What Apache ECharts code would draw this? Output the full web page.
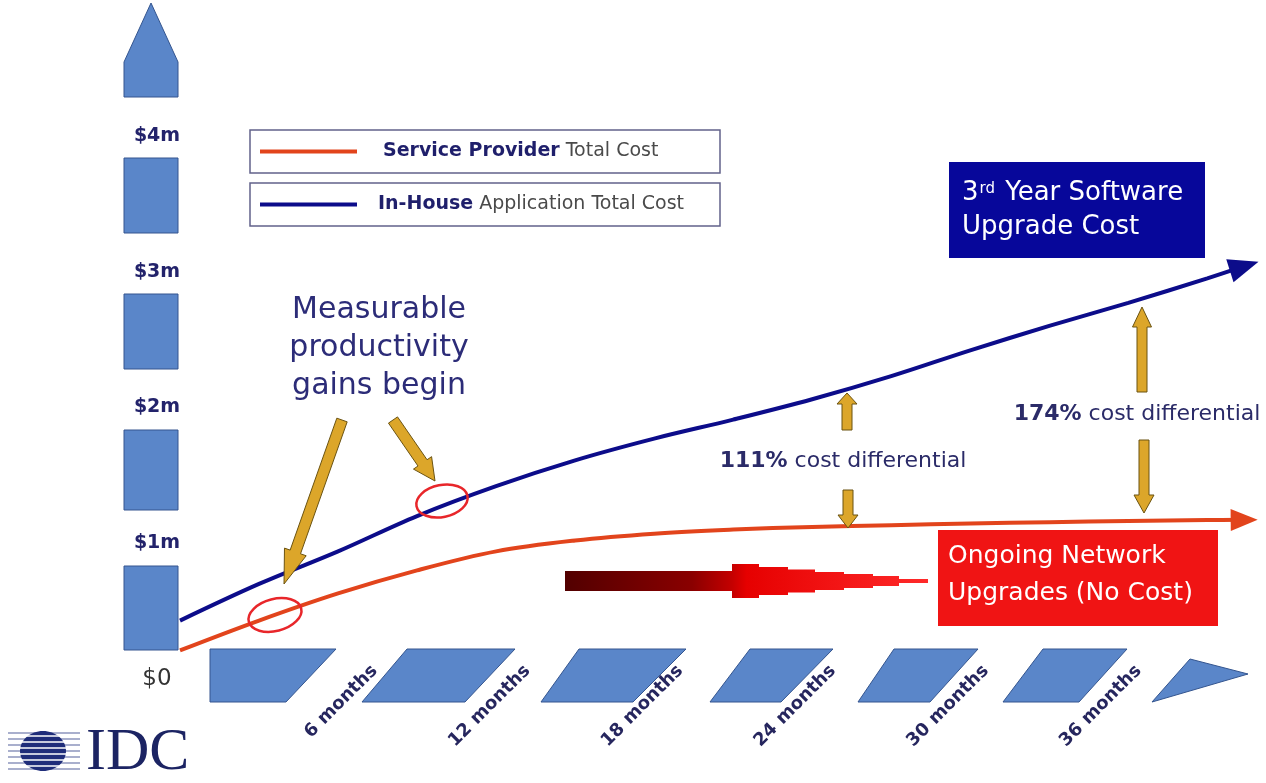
<!DOCTYPE html>
<html><head><meta charset="utf-8">
<script src="https://cdn.jsdelivr.net/npm/echarts@6/dist/echarts.min.js"></script>
<style>html,body{margin:0;padding:0;background:#fff}#c{width:1266px;height:783px}</style>
</head><body><div id="c"></div>
<script>
// ---------------- data ----------------
const months = [0, 3, 6, 9, 12, 15, 18, 21, 24, 27, 30, 33, 36, 39, 40.4];
const inHouse = [0.43, 0.70, 0.94, 1.20, 1.42, 1.61, 1.77, 1.91, 2.06, 2.23, 2.42, 2.60, 2.77, 2.95, 3.04];
const serviceProvider = [0.21, 0.43, 0.63, 0.80, 0.94, 1.02, 1.07, 1.10, 1.12, 1.133, 1.145, 1.155, 1.163, 1.17, 1.172];
const yTicks = [0, 1, 2, 3, 4];
const yTickLabels = ['$0', '$1m', '$2m', '$3m', '$4m'];
const monthTicks = [6, 12, 18, 24, 30, 36];
const monthLabels = ['6 months', '12 months', '18 months', '24 months', '30 months', '36 months'];
const seriesNames = ['Service Provider Total Cost', 'In-House Application Total Cost'];
const legendBold = {'Service Provider Total Cost': ['Service Provider', 'Total Cost'],
                    'In-House Application Total Cost': ['In-House', 'Application Total Cost']};

// ---------------- style ----------------
const FONT = "'DejaVu Sans', 'Liberation Sans', sans-serif";
const NAVY = '#23236b';
const RED_LINE = '#e2441c';
const BLUE_LINE = '#0c0c8a';
const COL_FILL = '#5a86c9', COL_STROKE = '#34558f';
const GOLD = '#dca62a', GOLD_STROKE = '#6b5311';

const chart = echarts.init(document.getElementById('c'));

function arrowPoly(x1, y1, x2, y2, shaft, head, headLen) {
  const dx = x2 - x1, dy = y2 - y1, L = Math.hypot(dx, dy), ux = dx / L, uy = dy / L, nx = -uy, ny = ux;
  const bx = x2 - ux * headLen, by = y2 - uy * headLen, s = shaft / 2, h = head / 2;
  return [[x1 + nx * s, y1 + ny * s], [bx + nx * s, by + ny * s], [bx + nx * h, by + ny * h], [x2, y2],
          [bx - nx * h, by - ny * h], [bx - nx * s, by - ny * s], [x1 - nx * s, y1 - ny * s]];
}

const deco = [];
// vertical value column
deco.push({type: 'polygon', z: -1, shape: {points: [[151, 3], [178, 62], [178, 97], [124, 97], [124, 62]]},
           style: {fill: COL_FILL, stroke: COL_STROKE, lineWidth: 1}});
[[158, 233], [294, 369], [430, 510], [566, 650]].forEach(([a, b]) => deco.push({
  type: 'rect', z: -1, shape: {x: 124, y: a, width: 54, height: b - a},
  style: {fill: COL_FILL, stroke: COL_STROKE, lineWidth: 1}}));
// horizontal timeline blocks
[
  [[210, 649], [336, 649], [286, 702], [210, 702]],
  [[407, 649], [515, 649], [465, 702], [362, 702]],
  [[579, 649], [686, 649], [633, 702], [541, 702]],
  [[750, 649], [833, 649], [781, 702], [710, 702]],
  [[894, 649], [978, 649], [930, 702], [858, 702]],
  [[1043, 649], [1127, 649], [1079, 702], [1003, 702]],
  [[1190, 659], [1248, 674], [1152, 702]]
].forEach(p => deco.push({type: 'polygon', z: -1, shape: {points: p},
  style: {fill: COL_FILL, stroke: COL_STROKE, lineWidth: 1}}));

// legend boxes
deco.push({type: 'rect', z: 1, shape: {x: 250, y: 130, width: 470, height: 43}, style: {fill: 'none', stroke: '#62628a', lineWidth: 1.5}});
deco.push({type: 'rect', z: 1, shape: {x: 250, y: 183, width: 470, height: 43}, style: {fill: 'none', stroke: '#62628a', lineWidth: 1.5}});

// navy box
deco.push({type: 'rect', z: 5, shape: {x: 949, y: 162, width: 256, height: 96}, style: {fill: '#07079a'}});
deco.push({type: 'text', z: 6, x: 962, y: 210, style: {
  text: '3{s|rd} Year Software\nUpgrade Cost', fill: '#ffffff', font: '26px ' + FONT,
  fontSize: 26, fontFamily: FONT, lineHeight: 34,
  align: 'left', textAlign: 'left', verticalAlign: 'middle', textVerticalAlign: 'middle',
  rich: {s: {fontSize: 15, fontFamily: FONT, fill: '#fff', color: '#fff', verticalAlign: 'top', padding: [6, 2, 0, 1]}}}});

// red box
deco.push({type: 'rect', z: 5, shape: {x: 938, y: 530, width: 280, height: 96}, style: {fill: '#f01414'}});
deco.push({type: 'text', z: 6, x: 948, y: 575, style: {
  text: 'Ongoing Network\nUpgrades (No Cost)', fill: '#ffffff', font: '25px ' + FONT, lineHeight: 37,
  align: 'left', textAlign: 'left', verticalAlign: 'middle', textVerticalAlign: 'middle'}});

// red gradient arrow
deco.push({type: 'polygon', z: 4, shape: {points: [
  [565, 571], [732, 571], [732, 564], [759, 564], [759, 567], [788, 567], [788, 569.5], [815, 569.5], [815, 572],
  [844, 572], [844, 574], [873, 574], [873, 576], [899, 576], [899, 579], [928, 579],
  [928, 583], [899, 583], [899, 586], [873, 586], [873, 588], [844, 588], [844, 590], [815, 590],
  [815, 592.5], [788, 592.5], [788, 595], [759, 595], [759, 598], [732, 598], [732, 591], [565, 591]]},
  style: {fill: new echarts.graphic.LinearGradient(0, 0, 1, 0, [
    {offset: 0, color: '#520000'}, {offset: 0.35, color: '#8a0000'}, {offset: 0.46, color: '#c40000'},
    {offset: 0.5, color: '#e60000'}, {offset: 1, color: '#ff2a2a'}])}});

// annotation texts
deco.push({type: 'text', z: 6, x: 379, y: 348, style: {
  text: 'Measurable\nproductivity\ngains begin', fill: '#2c2c78', font: '30px ' + FONT, lineHeight: 38,
  align: 'center', textAlign: 'center', verticalAlign: 'middle', textVerticalAlign: 'middle'}});
deco.push({type: 'text', z: 6, x: 843, y: 461, style: {
  text: '{b|111%} cost differential', fill: '#2b2b68', font: '22px ' + FONT,
  align: 'center', textAlign: 'center', verticalAlign: 'middle', textVerticalAlign: 'middle',
  rich: {b: {fontWeight: 'bold', fontSize: 22, fontFamily: FONT, fill: '#2b2b68', color: '#2b2b68'}}}});
deco.push({type: 'text', z: 6, x: 1137, y: 414, style: {
  text: '{b|174%} cost differential', fill: '#2b2b68', font: '22px ' + FONT,
  align: 'center', textAlign: 'center', verticalAlign: 'middle', textVerticalAlign: 'middle',
  rich: {b: {fontWeight: 'bold', fontSize: 22, fontFamily: FONT, fill: '#2b2b68', color: '#2b2b68'}}}});

// gold arrows
[
  [342, 420, 284, 584, 11, 23, 34],
  [393, 420, 435, 481, 11, 22, 22],
  [847, 430, 847, 393, 10, 20, 11],
  [848, 490, 848, 528, 10, 20, 13],
  [1142, 392, 1142, 307, 10, 19, 20],
  [1144, 440, 1144, 513, 10, 20, 18]
].forEach(a => deco.push({type: 'polygon', z: 7, shape: {points: arrowPoly(...a)},
  style: {fill: GOLD, stroke: GOLD_STROKE, lineWidth: 1}}));

// red ellipses
deco.push({type: 'ellipse', z: 7, x: 275, y: 615, rotation: 0.25, shape: {cx: 0, cy: 0, rx: 27, ry: 16},
  style: {fill: 'none', stroke: '#e8262a', lineWidth: 2.5}});
deco.push({type: 'ellipse', z: 7, x: 442, y: 501, rotation: 0.2, shape: {cx: 0, cy: 0, rx: 26, ry: 16},
  style: {fill: 'none', stroke: '#e8262a', lineWidth: 2.5}});

// IDC logo
[733, 739, 745, 751, 757, 763, 769].forEach(y => deco.push({type: 'line', z: 1,
  shape: {x1: 8, y1: y, x2: 80, y2: y}, style: {stroke: '#8c94bc', lineWidth: 1.5}}));
deco.push({type: 'ellipse', z: 2, shape: {cx: 43, cy: 751, rx: 23, ry: 20}, style: {fill: '#1f2d7a'}});
[736, 742, 748, 754, 760, 766].forEach(y => deco.push({type: 'line', z: 3,
  shape: {x1: 18, y1: y, x2: 68, y2: y}, style: {stroke: '#ffffff', lineWidth: 1.6}}));
deco.push({type: 'text', z: 3, x: 86, y: 753, style: {text: 'IDC', fill: '#1c2463',
  font: "60px 'Liberation Serif', 'DejaVu Serif', serif", align: 'left', textAlign: 'left',
  verticalAlign: 'middle', textVerticalAlign: 'middle'}});

function pts(xs, ys) { return xs.map((m, i) => [m, ys[i]]); }
const redData = pts(months, serviceProvider);
const blueData = pts(months, inHouse);

const option = {
  backgroundColor: '#ffffff',
  animation: false,
  grid: [
    {left: 180, right: 6, top: 0, bottom: 104},
    {left: 222, right: -36, top: 600, bottom: 121}
  ],
  xAxis: [
    {type: 'value', gridIndex: 0, min: 0, max: 41, axisLine: {show: false}, axisTick: {show: false},
     axisLabel: {show: false}, splitLine: {show: false}},
    {type: 'value', gridIndex: 1, min: 0, max: 41, interval: 6, axisLine: {show: false}, axisTick: {show: false},
     splitLine: {show: false},
     axisLabel: {rotate: 45, margin: 6, fontFamily: FONT, fontWeight: 'bold', fontSize: 18, color: '#26265e',
       showMinLabel: false, showMaxLabel: false,
       formatter: v => { const i = monthTicks.indexOf(v); return i >= 0 ? monthLabels[i] : ''; }}}
  ],
  yAxis: [
    {type: 'value', gridIndex: 0, min: 0, max: 5, interval: 1, axisLine: {show: false}, axisTick: {show: false},
     splitLine: {show: false},
     axisLabel: {align: 'center', margin: 23, showMaxLabel: false,
       formatter: v => { const i = yTicks.indexOf(v); if (i < 0) return ''; return (v === 0 ? '{z|' : '{m|') + yTickLabels[i] + '}'; },
       rich: {z: {fontFamily: FONT, fontSize: 23, color: '#333333'},
              m: {fontFamily: FONT, fontSize: 19, fontWeight: 'bold', color: NAVY}}}},
    {type: 'value', gridIndex: 1, show: false}
  ],
  legend: seriesNames.map((name, k) => ({
    data: [name], left: 260, top: k === 0 ? 141 : 194, padding: 0, icon: 'rect', itemWidth: 97, itemHeight: 4,
    selectedMode: false,
    formatter: n => '{b|' + legendBold[n][0] + '} {r|' + legendBold[n][1] + '}',
    textStyle: {fontFamily: FONT, fontSize: 19, lineHeight: 21, padding: [0, 0, 0, k === 0 ? 21 : 16],
      rich: {b: {fontFamily: FONT, fontSize: 19, fontWeight: 'bold', color: '#1f1f6b'},
             r: {fontFamily: FONT, fontSize: 19, color: '#4a4a4a'}}}
  })),
  series: [
    {name: seriesNames[0], type: 'line', xAxisIndex: 0, yAxisIndex: 0, data: redData, smooth: 0.35,
     symbol: 'none', color: RED_LINE, lineStyle: {color: RED_LINE, width: 4}, z: 3, clip: false},
    {name: seriesNames[1], type: 'line', xAxisIndex: 0, yAxisIndex: 0, data: blueData, smooth: 0.35,
     symbol: 'none', color: BLUE_LINE, lineStyle: {color: BLUE_LINE, width: 4}, z: 3, clip: false},
    {name: 'redHead', type: 'scatter', xAxisIndex: 0, yAxisIndex: 0, data: [redData[redData.length - 1]],
     symbol: 'triangle', symbolSize: [22, 27], symbolRotate: -90, itemStyle: {color: RED_LINE, opacity: 1}, z: 4, silent: true},
    {name: 'blueHead', type: 'scatter', xAxisIndex: 0, yAxisIndex: 0, data: [blueData[blueData.length - 1]],
     symbol: 'triangle', symbolSize: [24, 30], symbolRotate: -72, itemStyle: {color: BLUE_LINE, opacity: 1}, z: 4, silent: true}
  ],
  graphic: {elements: deco}
};
chart.setOption(option);

// orient arrow heads along the end direction of each line
function headAngle(data) {
  const n = data.length;
  const p1 = chart.convertToPixel({gridIndex: 0}, data[n - 3]);
  const p2 = chart.convertToPixel({gridIndex: 0}, data[n - 1]);
  return Math.atan2(-(p2[1] - p1[1]), p2[0] - p1[0]) * 180 / Math.PI - 90;
}
chart.setOption({series: [{}, {}, {symbolRotate: headAngle(redData)}, {symbolRotate: headAngle(blueData)}]});
</script></body></html>
